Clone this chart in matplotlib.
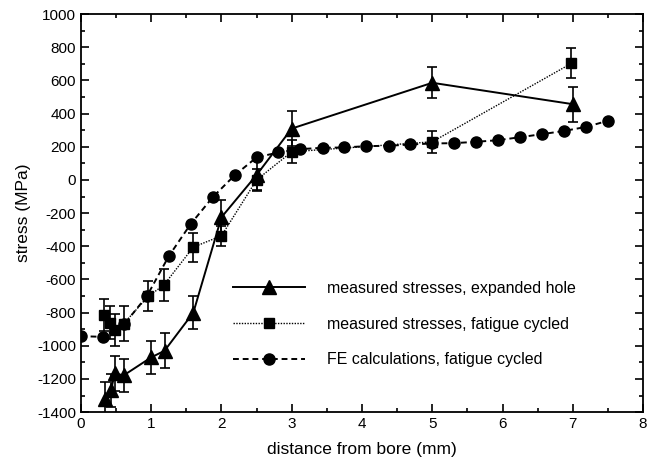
import matplotlib
matplotlib.use("Agg")
from matplotlib import pyplot as plt
from matplotlib.ticker import MultipleLocator

plt.rcParams['font.family'] = ['Liberation Sans', 'DejaVu Sans']
plt.rcParams['axes.unicode_minus'] = False

# measured stresses, expanded hole (triangles)
x_exp = [0.34, 0.43, 0.48, 0.61, 1.0, 1.19, 1.6, 2.0, 2.5, 3.0, 5.0, 7.0]
y_exp = [-1320, -1268, -1167, -1178, -1070, -1030, -800, -225, 30, 310, 586, 457]
e_exp = [100, 100, 105, 100, 100, 105, 100, 105, 90, 105, 93, 105]

# measured stresses, fatigue cycled (squares)
x_fat = [0.33, 0.42, 0.48, 0.61, 0.96, 1.18, 1.6, 2.0, 2.5, 3.0, 5.0, 6.98]
y_fat = [-815, -862, -906, -866, -701, -634, -405, -337, 0, 170, 230, 703]
e_fat = [95, 100, 95, 105, 90, 95, 88, 60, 65, 70, 65, 90]

# FE calculations, fatigue cycled (circles)
x_fe = [0, 0.31, 0.62, 0.94, 1.25, 1.56, 1.88, 2.19, 2.5, 2.81, 3.12, 3.44, 3.75,
        4.06, 4.38, 4.69, 5.0, 5.31, 5.62, 5.94, 6.25, 6.56, 6.88, 7.19, 7.5]
y_fe = [-942, -946, -868, -700, -460, -267, -102, 29, 136, 166, 186, 194, 196,
        204, 206, 214, 220, 222, 230, 240, 258, 276, 296, 320, 357]

fig = plt.figure(figsize=(6.63, 4.71), dpi=100)
ax = fig.add_axes([0.122, 0.125, 0.848, 0.845])

# error bars
ax.errorbar(x_exp, y_exp, yerr=e_exp, fmt='none', ecolor='black', elinewidth=1.2, capsize=3.5, capthick=1.2)
ax.errorbar(x_fat, y_fat, yerr=e_fat, fmt='none', ecolor='black', elinewidth=1.2, capsize=3.5, capthick=1.2)

ax.plot(x_exp, y_exp, color='black', linestyle='-', linewidth=1.4, marker='^', markersize=10.5,
        label="measured stresses, expanded hole")
ax.plot(x_fat, y_fat, color='black', linestyle=(0, (1, 1)), linewidth=1.0, marker='s', markersize=7.5,
        label="measured stresses, fatigue cycled")
ax.plot(x_fe, y_fe, color='black', linestyle=(0, (3, 2)), linewidth=1.4, marker='o', markersize=8,
        label="FE calculations, fatigue cycled")

ax.set_xlim(0, 8)
ax.set_ylim(-1400, 1000)
ax.xaxis.set_major_locator(MultipleLocator(1))
ax.xaxis.set_minor_locator(MultipleLocator(0.5))
ax.yaxis.set_major_locator(MultipleLocator(200))
ax.yaxis.set_minor_locator(MultipleLocator(100))
ax.tick_params(which='both', direction='in', top=True, right=True, labelsize=11, width=1.2)
ax.tick_params(which='major', length=6)
ax.tick_params(which='minor', length=3)
for s in ax.spines.values():
    s.set_linewidth(1.3)

ax.set_xlabel("distance from bore (mm)", fontsize=12.5, labelpad=8)
ax.set_ylabel("stress (MPa)", fontsize=12.5, labelpad=4)

ax.legend(loc='center left', bbox_to_anchor=(0.27, 0.221), frameon=False, fontsize=11.5,
          handlelength=4.5, handletextpad=1.4, labelspacing=1.3, borderpad=0, borderaxespad=0)

plt.savefig("out.png", dpi=100)
